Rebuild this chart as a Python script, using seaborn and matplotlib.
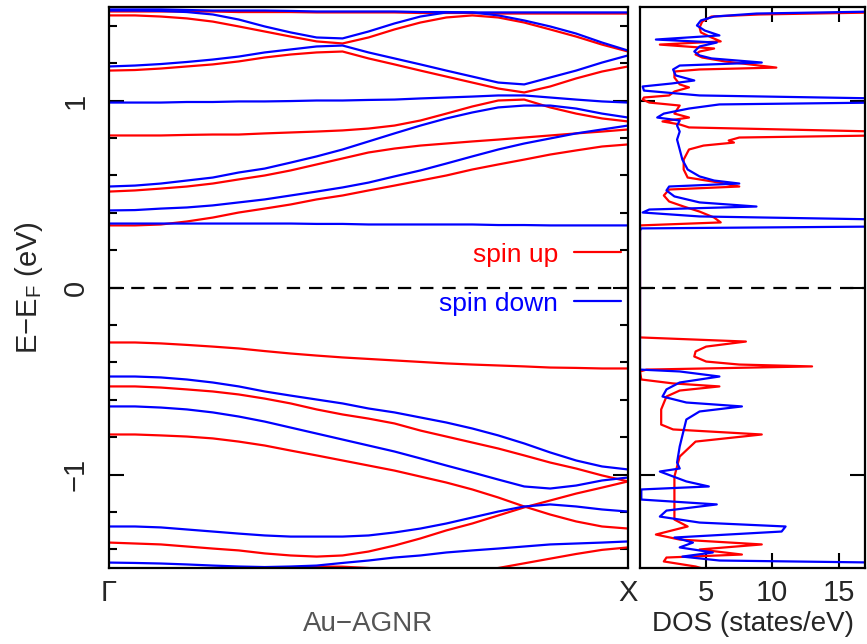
import numpy as np
import pandas as pd
import matplotlib
matplotlib.use("Agg")
import matplotlib.pyplot as plt
import seaborn as sns
from matplotlib.lines import Line2D
from matplotlib.ticker import MultipleLocator, FixedLocator

# ---------------- data ----------------
k = [0.00, 0.05, 0.10, 0.15, 0.20, 0.25, 0.30, 0.35, 0.40, 0.45, 0.50,
     0.55, 0.60, 0.65, 0.70, 0.75, 0.80, 0.85, 0.90, 0.95, 1.00]

# spin-up bands (eV)
up_c6 = [1.476, 1.476, 1.476, 1.476, 1.476, 1.473, 1.473, 1.473, 1.471, 1.471, 1.471,
         1.471, 1.468, 1.468, 1.468, 1.465, 1.465, 1.465, 1.465, 1.465, 1.465]
up_c5 = [1.455, 1.455, 1.449, 1.439, 1.422, 1.396, 1.369, 1.342, 1.316, 1.305, 1.337,
         1.380, 1.417, 1.444, 1.455, 1.444, 1.417, 1.380, 1.342, 1.299, 1.262]
up_c4 = [1.160, 1.163, 1.171, 1.182, 1.193, 1.209, 1.230, 1.246, 1.257, 1.262, 1.225,
         1.193, 1.160, 1.128, 1.096, 1.064, 1.043, 1.075, 1.118, 1.155, 1.182]
up_c3 = [0.813, 0.813, 0.813, 0.816, 0.818, 0.818, 0.824, 0.829, 0.834, 0.840, 0.850,
         0.866, 0.893, 0.930, 0.968, 1.000, 1.005, 0.963, 0.930, 0.904, 0.888]
up_c2 = [0.513, 0.519, 0.529, 0.540, 0.556, 0.578, 0.599, 0.626, 0.658, 0.690, 0.722,
         0.743, 0.759, 0.770, 0.781, 0.791, 0.802, 0.813, 0.824, 0.834, 0.845]
up_c1 = [0.332, 0.332, 0.337, 0.353, 0.374, 0.401, 0.422, 0.444, 0.471, 0.492, 0.519,
         0.545, 0.572, 0.599, 0.631, 0.658, 0.684, 0.711, 0.733, 0.754, 0.765]
up_v1 = [-0.294, -0.294, -0.299, -0.307, -0.316, -0.326, -0.340, -0.353, -0.364, -0.374, -0.382,
         -0.390, -0.398, -0.406, -0.412, -0.417, -0.422, -0.428, -0.430, -0.433, -0.433]
up_v2 = [-0.529, -0.529, -0.535, -0.545, -0.556, -0.572, -0.594, -0.620, -0.652, -0.679, -0.701,
         -0.727, -0.765, -0.797, -0.829, -0.861, -0.898, -0.936, -0.968, -1.005, -1.037]
up_v3 = [-0.786, -0.786, -0.791, -0.797, -0.807, -0.824, -0.845, -0.872, -0.898, -0.925, -0.952,
         -0.979, -1.011, -1.043, -1.080, -1.123, -1.171, -1.214, -1.251, -1.278, -1.289]
up_v4 = [-1.364, -1.369, -1.374, -1.385, -1.396, -1.406, -1.422, -1.433, -1.439, -1.433, -1.412,
         -1.380, -1.342, -1.299, -1.262, -1.219, -1.176, -1.139, -1.102, -1.070, -1.037]
up_v5 = [-1.560, -1.555, -1.545, -1.535, -1.525, -1.515, -1.505, -1.497, -1.492, -1.493, -1.500,
         -1.510, -1.520, -1.530, -1.520, -1.500, -1.475, -1.450, -1.425, -1.403, -1.390]

# spin-down bands (eV)
dn_c7 = [1.487, 1.487, 1.487, 1.484, 1.481, 1.481, 1.481, 1.479, 1.476, 1.476, 1.476,
         1.476, 1.473, 1.473, 1.471, 1.471, 1.471, 1.471, 1.471, 1.471, 1.471]
dn_c6 = [1.481, 1.481, 1.479, 1.473, 1.460, 1.433, 1.396, 1.364, 1.337, 1.332, 1.369,
         1.412, 1.449, 1.471, 1.471, 1.455, 1.428, 1.396, 1.358, 1.310, 1.267]
dn_c5 = [1.182, 1.187, 1.195, 1.206, 1.219, 1.235, 1.257, 1.273, 1.289, 1.294, 1.257,
         1.225, 1.193, 1.160, 1.128, 1.096, 1.086, 1.123, 1.160, 1.203, 1.241]
dn_c4 = [0.989, 0.989, 0.989, 0.992, 0.992, 0.995, 0.995, 0.997, 1.000, 1.000, 1.003,
         1.005, 1.011, 1.016, 1.021, 1.027, 1.027, 1.016, 1.005, 0.995, 0.989]
dn_c3 = [0.540, 0.545, 0.556, 0.572, 0.588, 0.615, 0.636, 0.668, 0.701, 0.738, 0.781,
         0.824, 0.866, 0.904, 0.936, 0.963, 0.973, 0.973, 0.957, 0.930, 0.909]
dn_c2 = [0.412, 0.414, 0.422, 0.428, 0.439, 0.455, 0.471, 0.492, 0.513, 0.535, 0.561,
         0.594, 0.626, 0.663, 0.701, 0.738, 0.770, 0.797, 0.824, 0.845, 0.866]
dn_c1 = [0.342, 0.342, 0.342, 0.342, 0.342, 0.342, 0.342, 0.342, 0.340, 0.340, 0.337,
         0.337, 0.337, 0.337, 0.337, 0.334, 0.334, 0.332, 0.332, 0.332, 0.332]
dn_v1 = [-0.476, -0.476, -0.481, -0.492, -0.508, -0.529, -0.556, -0.578, -0.599, -0.620, -0.647,
         -0.668, -0.695, -0.722, -0.754, -0.791, -0.834, -0.882, -0.925, -0.957, -0.973]
dn_v2 = [-0.636, -0.636, -0.642, -0.652, -0.668, -0.690, -0.717, -0.749, -0.781, -0.813, -0.845,
         -0.877, -0.914, -0.952, -0.989, -1.027, -1.064, -1.075, -1.059, -1.032, -1.016]
dn_v3 = [-1.278, -1.278, -1.283, -1.294, -1.305, -1.316, -1.326, -1.332, -1.332, -1.332, -1.326,
         -1.310, -1.289, -1.262, -1.230, -1.198, -1.171, -1.160, -1.171, -1.187, -1.198]
dn_v4 = [-1.471, -1.473, -1.476, -1.481, -1.487, -1.492, -1.495, -1.492, -1.487, -1.473, -1.460,
         -1.444, -1.433, -1.417, -1.406, -1.396, -1.385, -1.374, -1.369, -1.364, -1.358]

# DOS (states/eV) vs energy (eV)
dos_up_E = [1.497, 1.471, 1.460, 1.449, 1.422, 1.390, 1.364, 1.337, 1.316, 1.299, 1.278,
            1.262, 1.246, 1.230, 1.209, 1.176, 1.166, 1.155, 1.123, 1.086, 1.070, 1.048,
            1.027, 1.016, 1.005, 0.989, 0.973, 0.952, 0.930, 0.909, 0.888, 0.872, 0.856,
            0.834, 0.813, 0.802, 0.786, 0.775, 0.759, 0.738, 0.684, 0.631, 0.588, 0.561,
            0.540, 0.524, 0.492, 0.460, 0.433, 0.406, 0.374, 0.348, 0.332,
            -0.267, -0.289, -0.316, -0.342, -0.369, -0.396, -0.412, -0.422, -0.439, -0.449,
            -0.492, -0.513, -0.529, -0.551, -0.583, -0.652, -0.733, -0.759, -0.786, -0.824,
            -0.904, -1.011, -1.241, -1.278, -1.321, -1.348, -1.374, -1.401, -1.428, -1.444,
            -1.465, -1.492, -1.508]
dos_up = [18.0, 18.0, 9.0, 5.4, 4.7, 4.5, 4.6, 5.4, 6.1, 1.5, 5.6,
          4.5, 4.2, 4.7, 6.4, 10.3, 4.5, 2.6, 2.6, 3.0, 3.7, 2.6,
          2.2, 0.3, 0.2, 0.7, 3.0, 2.8, 2.6, 3.7, 1.7, 3.0, 3.7,
          18.0, 18.0, 7.5, 6.7, 7.1, 4.8, 3.7, 3.3, 3.3, 3.6, 6.0,
          7.5, 2.2, 1.8, 2.2, 3.3, 4.5, 5.6, 6.1, 0.0,
          0.0, 8.0, 5.0, 4.2, 4.1, 5.0, 7.5, 13.0, 0.5, 0.0,
          0.1, 2.5, 6.0, 3.0, 2.0, 1.6, 1.6, 2.5, 9.2, 4.2,
          3.0, 2.6, 2.6, 3.6, 1.2, 3.0, 9.2, 4.5, 7.7, 2.0,
          1.8, 4.2, 5.0]

dos_dn_E = [1.497, 1.476, 1.465, 1.449, 1.428, 1.401, 1.374, 1.348, 1.326, 1.310, 1.289,
            1.262, 1.241, 1.225, 1.203, 1.187, 1.166, 1.134, 1.107, 1.091, 1.075, 1.053,
            1.027, 1.011, 0.989, 0.979, 0.957, 0.930, 0.909, 0.893, 0.866, 0.834, 0.791,
            0.738, 0.684, 0.631, 0.594, 0.572, 0.556, 0.540, 0.519, 0.487, 0.455, 0.433,
            0.417, 0.401, 0.380, 0.364, 0.342, 0.326, 0.316, 0.305,
            -0.439, -0.449, -0.476, -0.508, -0.545, -0.583, -0.615, -0.636, -0.663, -0.706,
            -0.850, -0.936, -0.968, -0.984, -1.037, -1.064, -1.080, -1.134, -1.160, -1.193,
            -1.225, -1.257, -1.278, -1.305, -1.337, -1.364, -1.390, -1.417, -1.439, -1.460,
            -1.471, -1.508]
dos_dn = [18.0, 18.0, 8.8, 5.6, 4.6, 4.3, 4.9, 6.0, 1.2, 5.8, 4.5,
          4.1, 4.5, 5.4, 9.2, 3.0, 2.5, 2.7, 4.1, 2.4, 0.2, 0.3,
          4.5, 18.0, 18.0, 6.0, 3.7, 1.8, 1.3, 3.0, 2.8, 3.0, 2.8,
          3.0, 3.2, 3.6, 4.5, 5.6, 7.5, 2.2, 2.0, 2.6, 4.5, 8.8,
          0.7, 0.2, 4.5, 18.0, 18.0, 18.0, 0.1, 0.0,
          0.0, 3.0, 6.0, 3.0, 2.0, 1.7, 3.5, 7.7, 4.5, 3.5,
          3.0, 2.8, 3.0, 1.5, 3.5, 5.2, 0.1, 0.1, 5.8, 2.0,
          1.5, 4.5, 11.0, 10.7, 2.6, 4.0, 3.0, 5.5, 3.2, 6.0,
          18.0, 18.0]

RED = "#ff0000"
BLUE = "#0000ff"

# ---------------- build tables ----------------
up_bands = {"u_c6": up_c6, "u_c5": up_c5, "u_c4": up_c4, "u_c3": up_c3, "u_c2": up_c2,
            "u_c1": up_c1, "u_v1": up_v1, "u_v2": up_v2, "u_v3": up_v3, "u_v4": up_v4,
            "u_v5": up_v5}
dn_bands = {"d_c7": dn_c7, "d_c6": dn_c6, "d_c5": dn_c5, "d_c4": dn_c4, "d_c3": dn_c3,
            "d_c2": dn_c2, "d_c1": dn_c1, "d_v1": dn_v1, "d_v2": dn_v2, "d_v3": dn_v3,
            "d_v4": dn_v4}
rows = []
for spin, bands in (("up", up_bands), ("down", dn_bands)):
    for name, vals in bands.items():
        for kk, e in zip(k, vals):
            rows.append({"k": kk, "E": e, "spin": spin, "band": name})
bands_df = pd.DataFrame(rows)

dos_df = pd.concat([
    pd.DataFrame({"D": dos_up, "E": dos_up_E, "spin": "up"}),
    pd.DataFrame({"D": dos_dn, "E": dos_dn_E, "spin": "down"}),
], ignore_index=True)

# ---------------- plot ----------------
sns.set_theme(style="white")
plt.rcParams["font.family"] = ["Liberation Sans", "DejaVu Sans"]
plt.rcParams["axes.unicode_minus"] = True

W, H = 867, 644
fig = plt.figure(figsize=(W / 100, H / 100), dpi=100)
bot = 1 - 568 / H
hgt = (568 - 7) / H
ax1 = fig.add_axes([109 / W, bot, (628 - 109) / W, hgt])
ax2 = fig.add_axes([640 / W, bot, (865 - 640) / W, hgt])

pal = {"up": RED, "down": BLUE}
sns.lineplot(data=bands_df, x="k", y="E", hue="spin", units="band", estimator=None,
             sort=False, palette=pal, hue_order=["up", "down"], linewidth=1.6,
             legend=False, ax=ax1)
sns.lineplot(data=dos_df, x="D", y="E", hue="spin", estimator=None, sort=False,
             palette=pal, hue_order=["up", "down"], linewidth=1.6, legend=False, ax=ax2)

for ax in (ax1, ax2):
    ax.axhline(0, color="black", lw=1.6, ls=(0, (6, 4)), zorder=5)
    ax.set_ylim(-1.5, 1.5)
    for s in ax.spines.values():
        s.set_color("black")
        s.set_linewidth(1.6)
        s.set_visible(True)

# left panel
ax1.set_xlim(0, 1)
ax1.set_xticks([0, 1])
ax1.set_xticklabels(["Γ", "X"], fontsize=21)
ax1.tick_params(axis="x", length=0, pad=8)
ax1.yaxis.set_major_locator(FixedLocator([-1, 0, 1]))
ax1.yaxis.set_minor_locator(MultipleLocator(0.2))
ax1.tick_params(axis="y", which="both", direction="in", left=True, right=True,
                width=1.5, color="black")
ax1.tick_params(axis="y", which="major", length=11, labelsize=21, pad=14)
ax1.tick_params(axis="y", which="minor", length=6)
ax1.set_yticks([-1, 0, 1])
ax1.set_yticklabels(["\u22121", "0", "1"], rotation=90, va="center")
ax1.set_xlabel("Au\u2212AGNR", fontsize=20, color="#555555", labelpad=3)
ax1.set_ylabel("E\u2212E$_{\\mathregular{F}}$ (eV)", fontsize=21, labelpad=12)

handles = [Line2D([], [], color=RED, lw=1.6), Line2D([], [], color=BLUE, lw=1.6)]
ax1.legend(handles, ["spin up", "spin down"], loc="center right",
           bbox_to_anchor=(0.987, 0.515), frameon=False, markerfirst=False,
           labelcolor="linecolor", fontsize=19, handlelength=1.8, handletextpad=0.6,
           labelspacing=0.95, borderpad=0, borderaxespad=0)

# right panel
ax2.set_xlim(0, 17)
ax2.set_xticks([5, 10, 15])
ax2.tick_params(axis="x", direction="in", top=True, bottom=True, length=11, width=1.5,
                labelsize=21, pad=8, color="black")
ax2.set_yticks([-1, 0, 1])
ax2.tick_params(axis="y", direction="in", left=True, right=True, length=11, width=1.5,
                labelleft=False, color="black")
ax2.set_xlabel("DOS (states/eV)", fontsize=20, labelpad=3)
ax2.set_ylabel("")

fig.savefig("out.png", dpi=100)
